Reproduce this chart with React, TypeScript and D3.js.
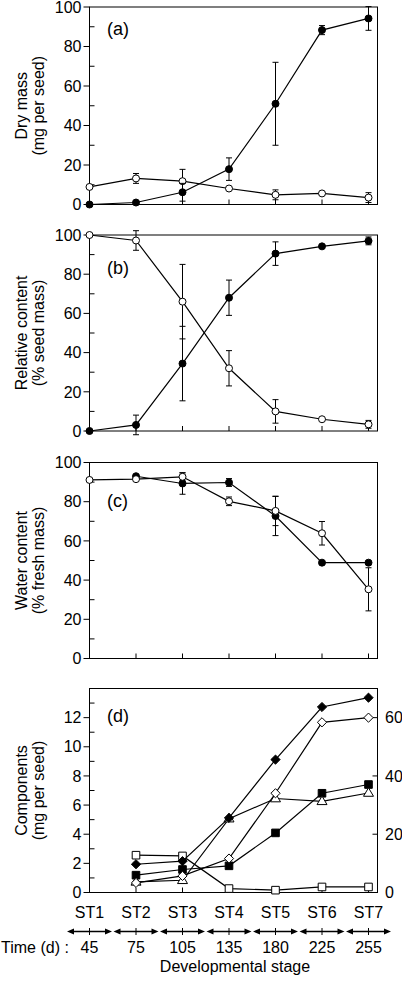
import React from "react";
import * as d3 from "d3";

const stages = ["ST1", "ST2", "ST3", "ST4", "ST5", "ST6", "ST7"];
const times = ["45", "75", "105", "135", "180", "225", "255"];

// (a) Dry mass
const dryFilled = [0, 1.0, 6.2, 17.9, 51, 88.3, 94.2];
const dryFilledErr = [0, 0, 4.5, 5.7, 21, 2.3, 6];
const dryOpen = [8.9, 13.2, 11.8, 8.1, 4.9, 5.6, 3.5];
const dryOpenErr = [0, 2.5, 6, 0, 2.5, 0, 2.5];

// (b) Relative content
const relFilled = [0, 3.1, 34.4, 68, 90.5, 94.2, 97];
const relFilledErr = [0, 5, 19, 9, 6, 0, 2];
const relOpen = [100, 97.2, 66, 32, 10, 6, 3.4];
const relOpenErr = [0, 5, 19, 9, 6, 0, 2];

// (c) Water content
const waterFilled: (number | null)[] = [null, 93.0, 89.3, 89.8, 72.7, 48.9, 48.9];
const waterFilledErr = [0, 0, 5.5, 2, 10, 0, 0];
const waterOpen = [91.1, 91.5, 92.7, 80.2, 75.3, 63.9, 35.3];
const waterOpenErr = [0, 0, 2, 2.2, 7.5, 6, 11];

// (d) Components
const compFilledDiamond: (number | null)[] = [null, 1.94, 2.15, 5.12, 9.12, 12.73, 13.37];
const compOpenDiamond: (number | null)[] = [null, 0.66, 1.14, 2.33, 6.81, 11.68, 12.0];
const compFilledSquare: (number | null)[] = [null, 1.19, 1.58, 1.83, 4.09, 6.81, 7.41];
const compOpenTriangle: (number | null)[] = [null, 0.73, 0.84, 5.07, 6.45, 6.26, 6.83];
const compOpenSquare: (number | null)[] = [null, 2.56, 2.51, 0.27, 0.16, 0.38, 0.38];

const leftTicks100 = [0, 20, 40, 60, 80, 100];
const minorTicks100 = [10, 30, 50, 70, 90];
const leftTicksD = [0, 2, 4, 6, 8, 10, 12];
const minorTicksD = [1, 3, 5, 7, 9, 11, 13];
const rightTicksD = [0, 20, 40, 60];

const FONT = "'Liberation Sans', Arial, Helvetica, sans-serif";
const FS = 16;
const X0 = 89.5;
const X1 = 377.5;

const x = d3.scaleLinear().domain([0, 6]).range([X0, 368.5]);

type Marker = "circle" | "diamond" | "square" | "triangle";

function markerPath(kind: Marker, cx: number, cy: number): string {
  if (kind === "diamond") {
    const r = 4.6;
    return `M${cx},${cy - r}L${cx + r},${cy}L${cx},${cy + r}L${cx - r},${cy}Z`;
  }
  if (kind === "square") {
    const h = 3.8;
    return `M${cx - h},${cy - h}H${cx + h}V${cy + h}H${cx - h}Z`;
  }
  if (kind === "triangle") {
    const w = 5, t = 5.2, b = 3.3;
    return `M${cx},${cy - t}L${cx + w},${cy + b}L${cx - w},${cy + b}Z`;
  }
  return "";
}

function Series({
  values,
  errs,
  y,
  filled,
  kind = "circle",
}: {
  values: (number | null)[];
  errs?: number[];
  y: d3.ScaleLinear<number, number>;
  filled: boolean;
  kind?: Marker;
}) {
  const line = d3
    .line<number | null>()
    .defined((d) => d !== null)
    .x((_, i) => x(i))
    .y((d) => y(d as number));
  return (
    <g>
      <path d={line(values) || ""} fill="none" stroke="#000" strokeWidth={1.2} />
      {errs &&
        values.map((v, i) => {
          if (v === null || !errs[i]) return null;
          const cx = x(i);
          const top = y(v + errs[i]);
          const bot = y(v - errs[i]);
          return (
            <g key={"e" + i} stroke="#000" strokeWidth={1}>
              <line x1={cx} x2={cx} y1={top} y2={bot} />
              <line x1={cx - 3} x2={cx + 3} y1={top} y2={top} />
              <line x1={cx - 3} x2={cx + 3} y1={bot} y2={bot} />
            </g>
          );
        })}
      {values.map((v, i) => {
        if (v === null) return null;
        const cx = x(i);
        const cy = y(v);
        if (kind === "circle")
          return (
            <circle
              key={"m" + i}
              cx={cx}
              cy={cy}
              r={3.5}
              fill={filled ? "#000" : "#fff"}
              stroke="#000"
              strokeWidth={1}
            />
          );
        return (
          <path
            key={"m" + i}
            d={markerPath(kind, cx, cy)}
            fill={filled ? "#000" : "#fff"}
            stroke="#000"
            strokeWidth={1}
          />
        );
      })}
    </g>
  );
}

function Frame({
  y,
  top,
  bottom,
  ticks,
  minor,
  label1,
  label2,
  tag,
  tagY,
}: {
  y: d3.ScaleLinear<number, number>;
  top: number;
  bottom: number;
  ticks: number[];
  minor: number[];
  label1: string;
  label2: string;
  tag: string;
  tagY: number;
}) {
  const cy = (top + bottom) / 2;
  return (
    <g>
      <rect x={X0} y={top} width={X1 - X0} height={bottom - top} fill="none" stroke="#000" strokeWidth={1} />
      {ticks.map((t) => (
        <g key={"t" + t}>
          <line x1={X0 - 6} x2={X0} y1={y(t)} y2={y(t)} stroke="#000" />
          <text x={81.5} y={y(t) + 5.7} textAnchor="end" fontSize={FS} fontFamily={FONT}>
            {t}
          </text>
        </g>
      ))}
      {minor.map((t) => (
        <line key={"m" + t} x1={X0} x2={X0 + 5} y1={y(t)} y2={y(t)} stroke="#000" />
      ))}
      {stages.map((s, i) =>
        i === 0 ? null : (
          <line key={"x" + s} x1={x(i)} x2={x(i)} y1={bottom} y2={bottom - 5} stroke="#000" />
        )
      )}
      <text
        transform={`translate(27,${cy}) rotate(-90)`}
        textAnchor="middle"
        fontSize={FS}
        fontFamily={FONT}
      >
        {label1}
      </text>
      <text
        transform={`translate(44,${cy}) rotate(-90)`}
        textAnchor="middle"
        fontSize={FS}
        fontFamily={FONT}
      >
        {label2}
      </text>
      <text x={107} y={tagY} fontSize={18} fontFamily={FONT}>
        {tag}
      </text>
    </g>
  );
}

export default function App() {
  const ya = d3.scaleLinear().domain([0, 100]).range([204.5, 7]);
  const yb = d3.scaleLinear().domain([0, 100]).range([431, 235]);
  const yc = d3.scaleLinear().domain([0, 100]).range([658.5, 462.5]);
  const yd = d3.scaleLinear().domain([0, 14]).range([892.5, 688.5]);
  const ydr = d3.scaleLinear().domain([0, 70]).range([892.5, 688.5]);

  const arrowY = 931.5;
  const half = 22.5;

  return (
    <svg
      width={402}
      height={982}
      style={{ position: "absolute", left: 0, top: 0, background: "#fff" }}
    >
      <rect x={0} y={0} width={402} height={982} fill="#fff" />

      <Frame y={ya} top={7} bottom={204.5} ticks={leftTicks100} minor={minorTicks100}
        label1="Dry mass" label2="(mg per seed)" tag="(a)" tagY={34.6} />
      <Series values={dryOpen} errs={dryOpenErr} y={ya} filled={false} />
      <Series values={dryFilled} errs={dryFilledErr} y={ya} filled={true} />

      <Frame y={yb} top={235} bottom={431} ticks={leftTicks100} minor={minorTicks100}
        label1="Relative content" label2="(% seed mass)" tag="(b)" tagY={274} />
      <Series values={relOpen} errs={relOpenErr} y={yb} filled={false} />
      <Series values={relFilled} errs={relFilledErr} y={yb} filled={true} />

      <Frame y={yc} top={462.5} bottom={658.5} ticks={leftTicks100} minor={minorTicks100}
        label1="Water content" label2="(% fresh mass)" tag="(c)" tagY={507} />
      <Series values={waterFilled} errs={waterFilledErr} y={yc} filled={true} />
      <Series values={waterOpen} errs={waterOpenErr} y={yc} filled={false} />

      <Frame y={yd} top={688.5} bottom={892.5} ticks={leftTicksD} minor={minorTicksD}
        label1="Components" label2="(mg per seed)" tag="(d)" tagY={722} />
      {rightTicksD.map((t) => (
        <g key={"r" + t}>
          <line x1={X1 - 5} x2={X1} y1={ydr(t)} y2={ydr(t)} stroke="#000" />
          <text x={385} y={ydr(t) + 5.7} fontSize={FS} fontFamily={FONT}>
            {t}
          </text>
        </g>
      ))}
      <Series values={compOpenSquare} y={yd} filled={false} kind="square" />
      <Series values={compFilledSquare} y={yd} filled={true} kind="square" />
      <Series values={compOpenTriangle} y={yd} filled={false} kind="triangle" />
      <Series values={compOpenDiamond} y={yd} filled={false} kind="diamond" />
      <Series values={compFilledDiamond} y={yd} filled={true} kind="diamond" />

      {stages.map((s, i) => (
        <text key={s} x={x(i)} y={918} textAnchor="middle" fontSize={FS} fontFamily={FONT}>
          {s}
        </text>
      ))}
      {stages.map((s, i) => {
        const cx = x(i);
        const l = cx - half;
        const r = cx + half;
        return (
          <g key={"a" + s}>
            <line x1={l + 4} x2={r - 4} y1={arrowY} y2={arrowY} stroke="#000" strokeWidth={1.3} />
            <path d={`M${l},${arrowY}L${l + 7},${arrowY - 3}L${l + 7},${arrowY + 3}Z`} fill="#000" />
            <path d={`M${r},${arrowY}L${r - 7},${arrowY - 3}L${r - 7},${arrowY + 3}Z`} fill="#000" />
            <line x1={cx} x2={cx} y1={arrowY - 3.5} y2={arrowY + 3.5} stroke="#000" strokeWidth={1} />
          </g>
        );
      })}
      <text x={1} y={953} fontSize={FS} fontFamily={FONT}>
        Time (d) :
      </text>
      {times.map((t, i) => (
        <text key={"tm" + t} x={x(i)} y={953} textAnchor="middle" fontSize={FS} fontFamily={FONT}>
          {t}
        </text>
      ))}
      <text x={235} y={972} textAnchor="middle" fontSize={FS} fontFamily={FONT}>
        Developmental stage
      </text>
    </svg>
  );
}
